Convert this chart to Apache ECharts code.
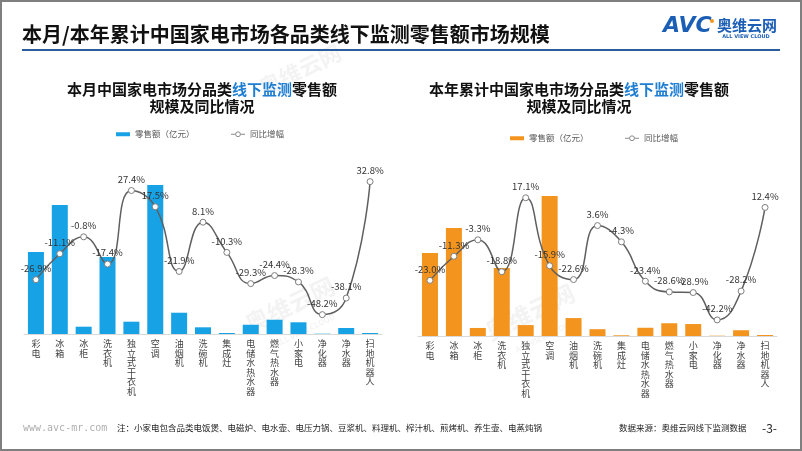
<!DOCTYPE html>
<html><head><meta charset="utf-8">
<script src="https://cdn.jsdelivr.net/npm/echarts@6/dist/echarts.min.js"></script>
<style>html,body{margin:0;padding:0;background:#fff}#c{width:802px;height:451px}</style>
</head><body><div id="c"></div>
<script>
const categories = ['彩电','冰箱','冰柜','洗衣机','独立式干衣机','空调','油烟机','洗碗机','集成灶','电储水热水器','燃气热水器','小家电','净化器','净水器','扫地机器人'];
const monthSales = [83.2,131.0,7.4,78.2,12.5,151.3,21.6,6.8,1.0,9.4,14.5,11.9,0.3,6.1,1.0];
const monthYoy = [-26.9,-11.1,-0.8,-17.4,27.4,17.5,-21.9,8.1,-10.3,-29.3,-24.4,-28.3,-48.2,-38.1,32.8];
const ytdSales = [403,524,39,330,53,680,87,33,3.4,40,62,58,1.5,28,4.9];
const ytdYoy = [-23.0,-11.3,-3.3,-18.8,17.1,-15.9,-22.6,3.6,-4.3,-23.4,-28.6,-28.9,-42.2,-28.2,12.4];
const legendNames = ['零售额（亿元）','同比增幅'];

const FONT = '"Noto Sans CJK SC","Noto Sans",sans-serif';
const BLUE = '#17A2E6', ORANGE = '#F3941E', LINE = '#5F5F5F';

function xAx(gi){
  return {type:'category', gridIndex:gi, data:categories,
    axisLine:{show:true,lineStyle:{color:'#D9D9D9'}}, axisTick:{show:false},
    axisLabel:{interval:0, margin:5, fontSize:9, lineHeight:9.5, color:'#404040', fontFamily:FONT,
      verticalAlign:'top', formatter:v=>v.split('').join('\n')}};
}
function yAx(gi,min,max){
  return {type:'value', gridIndex:gi, min:min, max:max, show:false, splitLine:{show:false}};
}
function lineSeries(xi,yi,data){
  return {name:legendNames[1], type:'line', xAxisIndex:xi, yAxisIndex:yi, data:data, smooth:0.5,
    symbol:'circle', symbolSize:6, showAllSymbol:true,
    lineStyle:{color:LINE,width:1.5}, itemStyle:{color:'#fff',borderColor:'#7F7F7F',borderWidth:1},
    label:{show:true, position:'top', distance:3, fontSize:9.5, color:'#333', fontFamily:FONT,
      formatter:p=>p.value.toFixed(1)+'%'}, z:5};
}
function barSeries(xi,yi,data,color){
  return {name:legendNames[0], type:'bar', xAxisIndex:xi, yAxisIndex:yi, data:data, barWidth:16,
    itemStyle:{color:color}};
}
function legend(left,top,color){
  return {left:left, top:top, padding:0, itemGap:36, itemWidth:14, itemHeight:6,
    textStyle:{fontSize:8.5,color:'#595959',fontFamily:FONT},
    data:[{name:legendNames[0], icon:'path://M0,0H14V4H0Z', itemStyle:{color:color}},
          {name:legendNames[1], itemStyle:{color:'#fff',borderColor:'#8C8C8C',borderWidth:1},
           lineStyle:{color:'#8C8C8C',width:1}}]};
}
function chartTitle(x, line1a, line1b, line1c){
  return {type:'text', x:x, y:98, silent:true, style:{
    text:'{a|'+line1a+'}{b|'+line1b+'}{a|'+line1c+'}\n{a|规模及同比情况}',
    align:'center', verticalAlign:'middle',
    rich:{a:{fontSize:15,fontWeight:'bold',fill:'#111',fontFamily:FONT,lineHeight:17.5},
          b:{fontSize:15,fontWeight:'bold',fill:'#1E7ED2',fontFamily:FONT,lineHeight:17.5}}}};
}
function wm(x,y,rot,size,txt,op){
  return {type:'text', x:x, y:y, rotation:rot, silent:true, z:-10, style:{text:txt, fontSize:size,
    fontWeight:'bold', fontFamily:FONT, fill:'rgba(140,140,140,'+op+')', align:'center', verticalAlign:'middle'}};
}

const chart = echarts.init(document.getElementById('c'), null, {renderer:'canvas'});
chart.setOption({
  animation:false,
  backgroundColor:'#fff',
  grid:[{left:24, top:137, width:358, height:197},
        {left:418, top:130, width:359, height:206}],
  xAxis:[xAx(0), xAx(1)],
  yAxis:[yAx(0,0,200), yAx(0,-60,60), yAx(1,0,1000), yAx(1,-50,50)],
  legend:[legend(116,130,BLUE), legend(510,134,ORANGE)],
  series:[barSeries(0,0,monthSales,BLUE), lineSeries(0,1,monthYoy),
          barSeries(1,2,ytdSales,ORANGE), lineSeries(1,3,ytdYoy)],
  graphic:[
    {type:'rect', shape:{x:1,y:1,width:800,height:449}, style:{fill:'none',stroke:'#7F7F7F',lineWidth:2}, silent:true},
    wm(300,70,0.45,22,'奥维云网',0.10),
    wm(290,305,0.45,24,'奥维云网',0.10),
    wm(305,330,0.45,8,'ALL VIEW CLOUD',0.10),
    wm(530,312,0.45,24,'奥维云网',0.10),
    wm(545,336,0.45,8,'ALL VIEW CLOUD',0.10),
    {type:'text', x:22, y:34, silent:true, style:{text:'本月/本年累计中国家电市场各品类线下监测零售额市场规模',
      fontSize:20, fontWeight:'bold', fill:'#111', fontFamily:FONT, verticalAlign:'middle'}},
    {type:'line', shape:{x1:22,y1:50,x2:780,y2:50}, style:{stroke:'#2B5C9E',lineWidth:2}, silent:true},
    {type:'text', x:663, y:26, silent:true, style:{text:'AVC', fontSize:22, fontWeight:'bold', fontStyle:'italic',
      fill:'#1B5EB5', fontFamily:'"DejaVu Sans",sans-serif', verticalAlign:'middle'}},
    {type:'circle', shape:{cx:712,cy:21,r:2}, style:{fill:'#F39A1E'}, silent:true},
    {type:'text', x:717, y:25, silent:true, style:{text:'奥维云网', fontSize:15, fontWeight:'bold',
      fill:'#1B5EB5', fontFamily:FONT, verticalAlign:'middle'}},
    {type:'text', x:746, y:37, silent:true, style:{text:'ALL VIEW CLOUD', fontSize:5, fontWeight:'bold',
      fill:'#1B5EB5', fontFamily:'"DejaVu Sans",sans-serif', align:'center', verticalAlign:'middle'}},
    chartTitle(202,'本月中国家电市场分品类','线下监测','零售额'),
    chartTitle(579,'本年累计中国家电市场分品类','线下监测','零售额'),
    {type:'text', x:23, y:428, silent:true, style:{text:'www.avc-mr.com', fontSize:10, fill:'#B0B0B0',
      fontFamily:'"DejaVu Sans Mono",monospace', verticalAlign:'middle'}},
    {type:'text', x:117, y:428, silent:true, style:{text:'注：小家电包含品类电饭煲、电磁炉、电水壶、电压力锅、豆浆机、料理机、榨汁机、煎烤机、养生壶、电蒸炖锅',
      fontSize:8.5, fill:'#222', fontFamily:FONT, verticalAlign:'middle'}},
    {type:'text', x:619, y:428, silent:true, style:{text:'数据来源：奥维云网线下监测数据',
      fontSize:8.5, fill:'#222', fontFamily:FONT, verticalAlign:'middle'}},
    {type:'text', x:762, y:428, silent:true, style:{text:'-3-', fontSize:12, fill:'#222', fontFamily:FONT, verticalAlign:'middle'}}
  ]
});
</script></body></html>
